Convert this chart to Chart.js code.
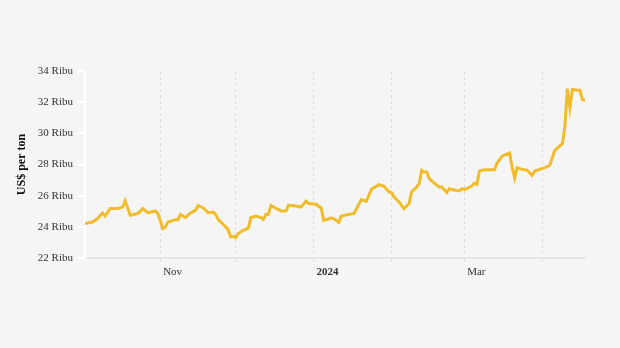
<!DOCTYPE html>
<html>
<head>
<meta charset="utf-8">
<script src="https://cdn.jsdelivr.net/npm/chart.js@4"></script>
<style>
  html, body { margin: 0; padding: 0; background: #f5f5f5; }
  #wrap { width: 620px; height: 348px; }
</style>
</head>
<body>
<div id="wrap"><canvas id="priceChart" width="620" height="348"></canvas></div>
<script>
// trading dates
const dates = [
  "2023-10-02","2023-10-05","2023-10-07","2023-10-09","2023-10-10","2023-10-12","2023-10-15","2023-10-17",
  "2023-10-18","2023-10-20","2023-10-23","2023-10-25","2023-10-27","2023-10-30","2023-10-31","2023-11-02",
  "2023-11-03","2023-11-04","2023-11-07","2023-11-08","2023-11-09","2023-11-11","2023-11-13","2023-11-15",
  "2023-11-16","2023-11-18","2023-11-20","2023-11-22","2023-11-23","2023-11-24","2023-11-26","2023-11-28",
  "2023-11-29","2023-11-30","2023-12-01","2023-12-02","2023-12-04","2023-12-06","2023-12-07","2023-12-09",
  "2023-12-11","2023-12-12","2023-12-13","2023-12-14","2023-12-15","2023-12-16","2023-12-19","2023-12-21",
  "2023-12-22","2023-12-25","2023-12-27","2023-12-29","2023-12-30","2024-01-02","2024-01-03","2024-01-04",
  "2024-01-05","2024-01-08","2024-01-09","2024-01-11","2024-01-12","2024-01-15","2024-01-17","2024-01-20",
  "2024-01-22","2024-01-24","2024-01-27","2024-01-29","2024-01-31","2024-02-01","2024-02-02","2024-02-04",
  "2024-02-06","2024-02-07","2024-02-08","2024-02-09","2024-02-11","2024-02-12","2024-02-13","2024-02-14",
  "2024-02-15","2024-02-16","2024-02-18","2024-02-20","2024-02-21","2024-02-23","2024-02-24","2024-02-25",
  "2024-02-28","2024-02-29","2024-03-01","2024-03-04","2024-03-05","2024-03-06","2024-03-07","2024-03-09",
  "2024-03-13","2024-03-14","2024-03-16","2024-03-19","2024-03-20","2024-03-21","2024-03-22","2024-03-24",
  "2024-03-26","2024-03-28","2024-03-29","2024-04-02","2024-04-04","2024-04-05","2024-04-06","2024-04-09",
  "2024-04-10","2024-04-11","2024-04-12","2024-04-13","2024-04-15","2024-04-16","2024-04-17","2024-04-18"
];

// US$ per ton
const prices = [
  24210,24310,24530,24890,24690,25170,25170,25270,
  25660,24740,24850,25170,24910,25020,24850,23890,
  23990,24310,24460,24460,24800,24590,24890,25060,
  25360,25230,24910,24950,24800,24480,24160,23820,
  23350,23390,23310,23570,23780,23920,24590,24690,
  24590,24480,24800,24800,25380,25270,25020,25020,
  25380,25340,25270,25640,25490,25450,25320,25210,
  24420,24570,24530,24290,24690,24800,24850,25750,
  25640,26410,26710,26600,26240,26200,25910,25590,
  25170,25340,25490,26240,26560,26770,27630,27520,
  27520,27100,26810,26560,26560,26200,26450,26390,
  26300,26450,26390,26620,26810,26730,27580,27670,
  27670,28100,28530,28740,27840,27130,27800,27690,
  27630,27310,27580,27800,27950,28440,28910,29340,
  30410,32870,31650,32810,32760,32760,32160,32160
];

const startDate = "2023-10-02";
const endDate = "2024-04-18";
const monthTicks = ["2023-11-01","2023-12-01","2024-01-01","2024-02-01","2024-03-01","2024-04-01"];
const monthLabels = ["Nov","","2024","","Mar",""];
const yTicks = [22000,24000,26000,28000,30000,32000,34000];

function dayNo(s) {
  let p = s.split("-").map(Number);
  let b = startDate.split("-").map(Number);
  return Math.round((Date.UTC(p[0], p[1] - 1, p[2]) - Date.UTC(b[0], b[1] - 1, b[2])) / 86400000);
}

let points = dates.map((d, i) => ({ x: dayNo(d), y: prices[i] }));
let tickDays = monthTicks.map(dayNo);

const serif = "'Liberation Serif', 'Times New Roman', serif";

new Chart(document.getElementById("priceChart"), {
  type: "line",
  data: {
    datasets: [{
      data: points,
      borderColor: "#f1bc2b",
      borderWidth: 3,
      pointRadius: 0,
      tension: 0,
      fill: false
    }]
  },
  options: {
    responsive: false,
    animation: false,
    layout: { padding: { top: 71, right: 35, left: 0, bottom: 0 } },
    plugins: { legend: { display: false }, tooltip: { enabled: false } },
    scales: {
      x: {
        type: "linear",
        min: 0,
        max: dayNo(endDate),
        afterBuildTicks: (scale) => { scale.ticks = tickDays.map(v => ({ value: v })); },
        afterFit: (scale) => { scale.height = 90; },
        grid: {
          color: "#dcdcdc",
          lineWidth: 1,
          tickLength: 4,
          drawTicks: true
        },
        // in v4 border.dash dashes the grid lines
        border: { color: "#e4e4e4", width: 2, dash: [3, 3] },
        ticks: {
          autoSkip: false,
          maxRotation: 0,
          align: "start",
          padding: 4,
          color: "#333",
          callback: (v) => {
            let i = tickDays.indexOf(v);
            return i >= 0 && monthLabels[i] ? " " + monthLabels[i] : "";
          },
          font: (ctx) => ({
            family: serif,
            size: 11,
            weight: ctx.tick && ctx.tick.value === tickDays[2] ? "bold" : "normal"
          })
        }
      },
      y: {
        min: 22000,
        max: 34000,
        afterBuildTicks: (scale) => { scale.ticks = yTicks.map(v => ({ value: v })); },
        afterFit: (scale) => { scale.width = 85; },
        grid: { drawOnChartArea: false, color: "#ffffff", lineWidth: 2, tickLength: 7 },
        border: { color: "#ffffff", width: 2 },
        title: {
          display: true,
          text: "US$ per ton",
          color: "#111",
          font: { family: serif, size: 12, weight: "bold" },
          padding: { top: 15, bottom: 0 }
        },
        ticks: {
          padding: 5,
          color: "#333",
          font: { family: serif, size: 11 },
          callback: (v) => (v / 1000) + " Ribu"
        }
      }
    }
  }
});
</script>
</body>
</html>
